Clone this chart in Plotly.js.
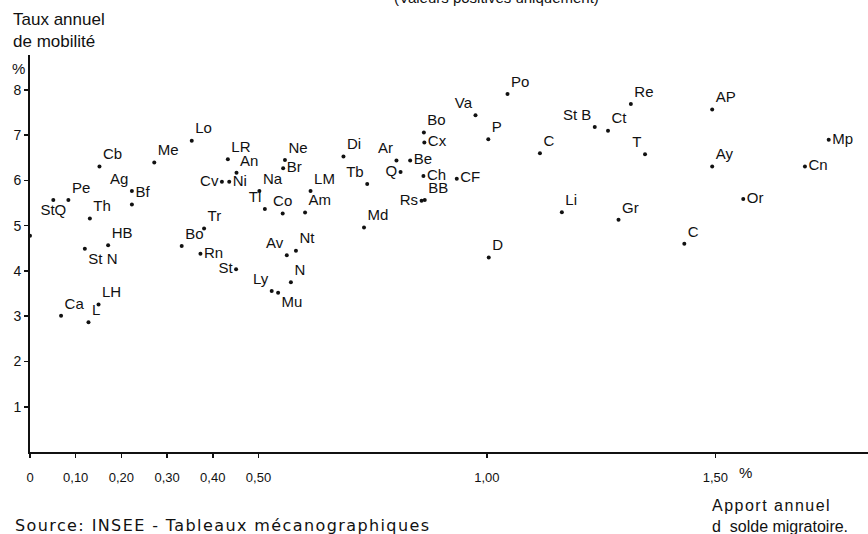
<!DOCTYPE html>
<html>
<head>
<meta charset="utf-8">
<script src="https://cdn.plot.ly/plotly-3.0.1.min.js"></script>
<style>
html,body{margin:0;padding:0;background:#fff;}
#chart{width:868px;height:534px;}
#chart .annotation[data-index="5"] text{letter-spacing:1.4px;}
#chart .annotation[data-index="4"] tspan.line:first-child{letter-spacing:1.5px;}
</style>
</head>
<body>
<div id="chart"></div>
<script>
// Data: département codes, annual net-migration contribution (%), annual mobility rate (%)
const labels = ["Lo","Cb","Me","LR","An","Ne","Br","StQ","Pe","Ag","Bf","Th","HB","St N","Ca","LH","L",
  "Bo","Tr","Rn","St","Cv","Ni","Na","Tl","Co","Av","Nt","Ly","Mu","N","D",
  "Po","Va","P","Bo","Cx","Di","Ar","Be","Tb","Q","Ch","CF","LM","Am","Rs","BB","Md",
  "C","Li","Re","St B","Ct","T","AP","Ay","Mp","Cn","Or","Gr","C",""];
const apport = [0.354,0.152,0.272,0.433,0.452,0.558,0.554,0.051,0.084,0.223,0.223,0.131,0.171,0.120,0.068,0.150,0.128,
  0.332,0.381,0.373,0.451,0.420,0.436,0.502,0.514,0.553,0.562,0.582,0.529,0.543,0.571,1.004,
  1.045,0.975,1.003,0.862,0.863,0.686,0.802,0.832,0.738,0.811,0.861,0.934,0.614,0.602,0.857,0.864,0.731,
  1.116,1.164,1.315,1.236,1.265,1.346,1.493,1.493,1.748,1.696,1.561,1.288,1.432,0.0];
const mobilite = [6.88,6.31,6.40,6.47,6.17,6.45,6.27,5.57,5.57,5.77,5.47,5.16,4.57,4.49,3.01,3.26,2.87,
  4.55,4.94,4.38,4.04,5.97,5.97,5.77,5.37,5.27,4.35,4.45,3.56,3.52,3.75,4.30,
  7.91,7.44,6.91,7.06,6.84,6.53,6.44,6.44,5.92,6.19,6.10,6.04,5.77,5.29,5.55,5.57,4.96,
  6.60,5.30,7.69,7.18,7.10,6.58,7.57,6.31,6.90,6.31,5.59,5.13,4.60,4.78];
const xTickVals = [0,0.1,0.2,0.3,0.4,0.5,1.0,1.5];
const xTickText = ["0","0,10","0,20","0,30","0,40","0,50","1,00","1,50"];
const yTickVals = [1,2,3,4,5,6,7,8];
const yTickText = ["1","2","3","4","5","6","7","8"];

// label placement (style)
const TR="top right", TL="top left", MR="middle right", ML="middle left", BR="bottom right", BC="bottom center", TC="top center";
const labelPos = [TR,TR,TR,TR,TR,TR,MR,BC,TR,TL,TR,TR,TR,BR,TR,TR,TR,
  TR,TR,MR,ML,ML,MR,TR,TL,TC,TL,TR,TL,BR,TR,TR,
  TR,TL,TR,TR,MR,TR,TL,MR,TL,ML,MR,MR,TR,TR,ML,TR,TR,
  TR,TR,TR,TL,TR,TL,TR,TR,MR,MR,MR,TR,TR,MR];

const font = "Liberation Sans, Arial, sans-serif";
const trace = {
  type: "scatter",
  mode: "markers+text",
  x: apport,
  y: mobilite,
  text: labels,
  textposition: labelPos,
  textfont: {family: font, size: 15, color: "#111"},
  marker: {color: "#111", size: 4},
  cliponaxis: false,
  hoverinfo: "none"
};

const layout = {
  width: 868, height: 534,
  margin: {l: 30, r: 0, t: 55, b: 82, pad: 0},
  paper_bgcolor: "#fff", plot_bgcolor: "#fff",
  showlegend: false,
  xaxis: {
    range: [0, 1.834], showgrid: false, zeroline: false,
    showline: true, linecolor: "#111", linewidth: 2,
    tickmode: "array", tickvals: xTickVals, ticktext: xTickText,
    ticks: "outside", ticklen: 4, tickwidth: 1.5, tickcolor: "#111",
    ticklabelstandoff: 8,
    tickfont: {family: font, size: 13, color: "#111"}
  },
  yaxis: {
    range: [0, 8.773], showgrid: false, zeroline: false,
    showline: true, linecolor: "#111", linewidth: 2,
    tickmode: "array", tickvals: yTickVals, ticktext: yTickText,
    ticks: "outside", ticklen: 4, tickwidth: 1.5, tickcolor: "#111",
    tickfont: {family: font, size: 14, color: "#111"}
  },
  annotations: [
    {text: "(Valeurs positives uniquement)", xref: "paper", yref: "paper", x: 0.557, y: 1.1436,
     xanchor: "center", yanchor: "middle", showarrow: false, font: {family: font, size: 15, color: "#111"}},
    {text: "Taux annuel<br>de mobilité", xref: "paper", yref: "paper", x: -0.0227, y: 1.0605,
     xanchor: "left", yanchor: "middle", align: "left", showarrow: false, font: {family: font, size: 17, color: "#111"}},
    {text: "%", xref: "paper", yref: "paper", x: -0.0143, y: 0.967,
     xanchor: "center", yanchor: "middle", showarrow: false, font: {family: font, size: 15, color: "#111"}},
    {text: "%", xref: "paper", yref: "paper", x: (745-30)/838, y: (452-472)/397,
     xanchor: "center", yanchor: "middle", showarrow: false, font: {family: font, size: 15, color: "#111"}},
    {text: "Apport annuel<br>d\u00a0\u00a0solde migratoire.", xref: "paper", yref: "paper", x: 0.8115, y: (452-516)/397,
     xanchor: "left", yanchor: "middle", align: "left", showarrow: false, font: {family: font, size: 16, color: "#111"}},
    {text: "Source: INSEE - Tableaux mécanographiques", xref: "paper", yref: "paper", x: -0.0203, y: -0.1839,
     xanchor: "left", yanchor: "middle", align: "left", showarrow: false, font: {family: "DejaVu Sans, sans-serif", size: 16, color: "#111"}}
  ]
};

Plotly.newPlot("chart", [trace], layout, {displayModeBar: false, staticPlot: true});
</script>
</body>
</html>
